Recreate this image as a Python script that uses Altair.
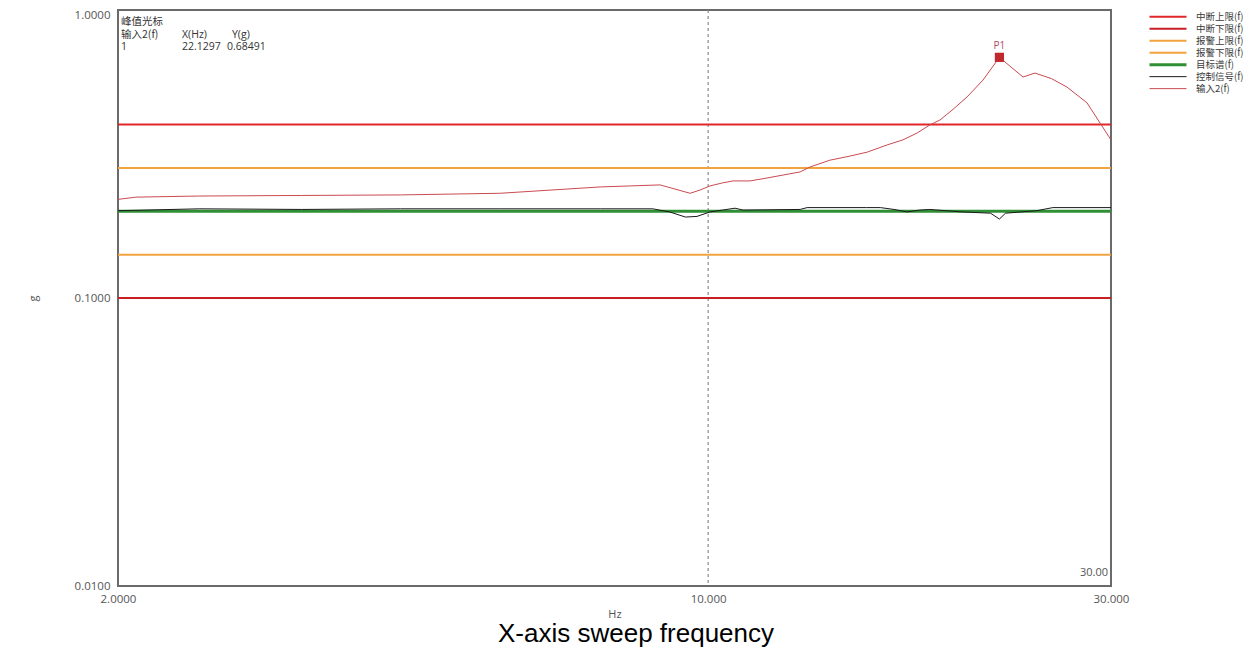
import altair as alt
import pandas as pd

# ---- values ----
series_order = ["中断上限(f)", "中断下限(f)", "报警上限(f)", "报警下限(f)", "目标谱(f)", "控制信号(f)", "输入2(f)"]
series_colors = ["#e0262b", "#c81e24", "#f2a33e", "#f2a33e", "#2f8f35", "#1a1a1a", "#c94a50"]
series_widths = [2.0, 2.0, 2.0, 2.0, 3.0, 1.0, 1.0]

sweep_range = [2.0, 30.0]
limit_names = ["中断上限(f)", "中断下限(f)", "报警上限(f)", "报警下限(f)"]
limit_g = [0.4, 0.1, 0.2828, 0.1414]
target_g = 0.2

input2_freq = [2.0, 2.1, 2.5, 3.3, 4.32, 5.67, 7.45, 8.77, 9.52, 9.78, 10.05, 10.40, 10.70, 11.21,
               11.74, 12.50, 12.85, 13.20, 13.94, 14.72, 15.43, 16.29, 17.01, 17.68,
               18.31, 18.82, 19.50, 20.26, 21.16, 22.1297, 23.60, 24.38, 25.50, 26.61, 28.10, 29.12, 30.0]
input2_g = [0.220, 0.224, 0.226, 0.227, 0.228, 0.231, 0.243, 0.247, 0.231, 0.237, 0.245, 0.251, 0.255, 0.255,
            0.261, 0.270, 0.274, 0.285, 0.301, 0.311, 0.321, 0.340, 0.354, 0.374,
            0.399, 0.415, 0.452, 0.499, 0.571, 0.68491, 0.585, 0.604, 0.578, 0.540, 0.476, 0.405, 0.354]

control_freq = [2.0, 2.5, 3.3, 4.32, 5.67, 7.45, 8.6, 9.0, 9.4, 9.7, 10.05, 10.4, 10.76, 11.0,
                12.85, 13.1, 15.4, 16.0, 16.6, 17.2, 17.8, 18.3, 20.0, 21.6, 22.13, 22.5,
                24.5, 25.6, 30.0]
control_g = [0.201, 0.204, 0.203, 0.204, 0.204, 0.204, 0.204, 0.199, 0.191, 0.192, 0.199, 0.202,
             0.205, 0.202, 0.203, 0.206, 0.206, 0.206, 0.203, 0.199, 0.202, 0.203, 0.199,
             0.197, 0.188, 0.197, 0.201, 0.206, 0.206]

peak_freq = [22.1297]
peak_g = [0.68491]
peak_label = ["P1"]
cursor_freq = [10.0]

x_ticks = [2, 10, 30]
y_ticks = [0.01, 0.1, 1.0]

# ---- tables ----
limits_df = pd.DataFrame(
    [{"freq": f, "g": v, "series": n} for n, v in zip(limit_names, limit_g) for f in sweep_range]
)
target_df = pd.DataFrame({"freq": sweep_range, "g": [target_g] * 2, "series": "目标谱(f)"})
control_df = pd.DataFrame({"freq": control_freq, "g": control_g, "series": "控制信号(f)"})
input_df = pd.DataFrame({"freq": input2_freq, "g": input2_g, "series": "输入2(f)"})
peak_df = pd.DataFrame({"freq": peak_freq, "g": peak_g, "label": peak_label})
cursor_df = pd.DataFrame({"freq": cursor_freq})

xscale = alt.Scale(type="log", domain=[2, 30], nice=False)
yscale = alt.Scale(type="log", domain=[0.01, 1.0], nice=False)

legend = alt.Legend(
    title=None, orient="none", legendX=1030, legendY=1, symbolType="stroke",
    symbolSize=1369, clipHeight=11.3, rowPadding=0, labelFontSize=9.5,
    labelFont="Noto Sans CJK SC", labelColor="#3a3a3a", labelOffset=8,
    padding=0, offset=0, columns=1,
)
color = alt.Color("series:N", scale=alt.Scale(domain=series_order, range=series_colors), legend=legend)
swidth = alt.StrokeWidth(
    "series:N", scale=alt.Scale(type="ordinal", domain=series_order, range=series_widths), legend=legend
)

x_enc = alt.X(
    "freq:Q", scale=xscale,
    axis=alt.Axis(values=x_ticks, format=".5r", title="Hz", grid=False, ticks=False, domain=False,
                  labelFlush=False, labelOverlap=False, labelPadding=7, labelFontSize=11.5,
                  labelFont="Open Sans", labelColor="#555555", titleFont="Open Sans",
                  titleFontSize=11, titleFontWeight="normal", titleColor="#555555",
                  titleY=22, titleBaseline="top"),
)
y_enc = alt.Y(
    "g:Q", scale=yscale,
    axis=alt.Axis(values=y_ticks, format=".4f", title="g", grid=False, ticks=False, domain=False,
                  labelFlush=False, labelOverlap=False, labelPadding=8, labelFontSize=11.5,
                  labelFont="Open Sans", labelColor="#555555", titleFont="Open Sans",
                  labelOffset=alt.condition("datum.value >= 1", alt.value(5), alt.value(0)),
                  titleFontSize=11, titleFontWeight="normal", titleColor="#555555",
                  titleX=-85, titleY=288, titleBaseline="middle"),
)

cursor = alt.Chart(cursor_df).mark_rule(color="#8a8a8a", strokeDash=[3, 3], strokeWidth=1.2).encode(
    x=alt.X("freq:Q", scale=xscale)
)

def series_layer(df):
    return alt.Chart(df).mark_line(clip=True).encode(
        x=x_enc, y=y_enc, color=color, strokeWidth=swidth, detail="series:N"
    )

limits = series_layer(limits_df)
target = series_layer(target_df)
control = series_layer(control_df)
inp = series_layer(input_df)

peak = alt.Chart(peak_df).mark_square(size=85, color="#c0282e", opacity=1).encode(
    x=alt.X("freq:Q", scale=xscale), y=alt.Y("g:Q", scale=yscale)
)
peak_text = alt.Chart(peak_df).mark_text(dy=-11, fontSize=10, font="Open Sans", color="#b04a6a").encode(
    x=alt.X("freq:Q", scale=xscale), y=alt.Y("g:Q", scale=yscale), text="label:N"
)

# cursor read-out box (top-left) and annotations
info_rows = [
    ("峰值光标", 3, 12, "Noto Sans CJK SC"),
    ("输入2(f)", 3, 25, "Noto Sans CJK SC"),
    ("X(Hz)", 64, 25, "Open Sans"),
    ("Y(g)", 114, 25, "Open Sans"),
    ("1", 3, 36.5, "Open Sans"),
    ("22.1297", 64, 36.5, "Open Sans"),
    ("0.68491", 109, 36.5, "Open Sans"),
]
info_layers = []
for txt, px, py, fnt in info_rows:
    info_layers.append(
        alt.Chart(pd.DataFrame({"t": [txt]})).mark_text(
            align="left", baseline="middle", fontSize=10.5, font=fnt, color="#333333"
        ).encode(text="t:N", x=alt.value(px), y=alt.value(py))
    )

end_label = alt.Chart(pd.DataFrame({"t": ["30.00"]})).mark_text(
    align="right", baseline="middle", fontSize=11, font="Open Sans", color="#555555"
).encode(text="t:N", x=alt.value(990), y=alt.value(563))

caption = alt.Chart(pd.DataFrame({"t": ["X-axis sweep frequency"]})).mark_text(
    align="center", baseline="alphabetic", fontSize=26, font="Liberation Sans", color="#000000"
).encode(text="t:N", x=alt.value(518), y=alt.value(632))

chart = alt.layer(
    cursor, limits, target, control, inp, peak, peak_text, end_label, caption, *info_layers
).properties(
    width=993, height=576,
    autosize=alt.AutoSizeParams(type="none"),
    padding={"left": 110, "top": 2, "right": 139, "bottom": 62},
).configure_view(stroke="#6a6a6a", strokeWidth=2)

chart.save("out.html", embed_options={"renderer": "svg", "actions": False})
